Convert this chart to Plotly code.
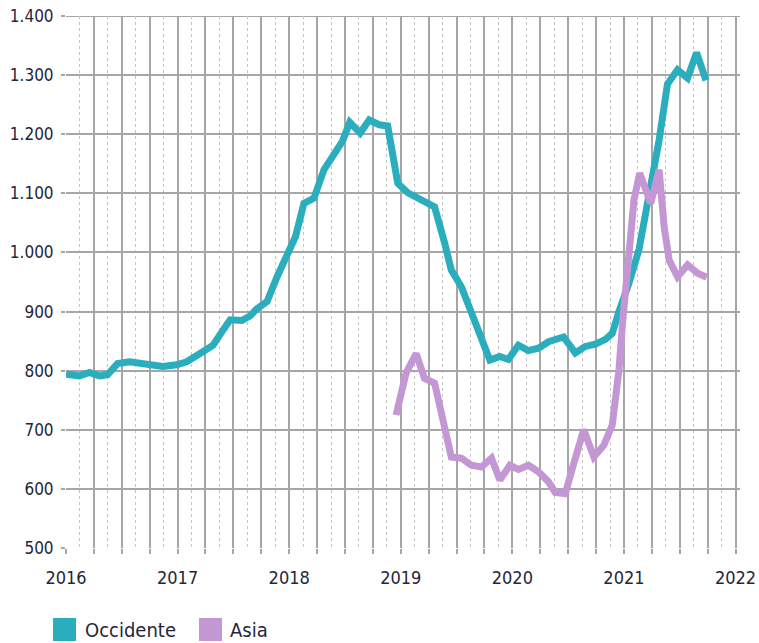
import plotly.graph_objects as go

# Occidente series (decimal year, value)
occ_x = [2016.000, 2016.120, 2016.210, 2016.300, 2016.372, 2016.462, 2016.570, 2016.721, 2016.868, 2016.991,
         2017.081, 2017.201, 2017.318, 2017.408, 2017.471, 2017.577, 2017.651, 2017.712, 2017.802, 2017.892, 2017.982,
         2018.057, 2018.132, 2018.222, 2018.312, 2018.402, 2018.477, 2018.543, 2018.636, 2018.717, 2018.807, 2018.883,
         2018.973, 2019.063, 2019.168, 2019.303, 2019.393, 2019.453, 2019.543, 2019.633, 2019.723, 2019.798, 2019.888, 2019.964,
         2020.054, 2020.144, 2020.234, 2020.324, 2020.459, 2020.564, 2020.654, 2020.744, 2020.834, 2020.895, 2020.955,
         2021.045, 2021.135, 2021.225, 2021.315, 2021.390, 2021.480, 2021.570, 2021.651, 2021.735]
occ_y = [794, 791, 797, 791, 793, 812, 815, 811, 807, 810,
         815, 829, 843, 869, 886, 885, 893, 905, 917, 959, 999,
         1027, 1083, 1092, 1140, 1168, 1188, 1220, 1202, 1224, 1216, 1214,
         1117, 1101, 1089, 1077, 1016, 970, 942, 897, 852, 818, 824, 819,
         843, 834, 838, 849, 857, 830, 841, 845, 853, 863, 900,
         948, 1005, 1090, 1190, 1285, 1309, 1295, 1338, 1291]

# Asia series (decimal year, value)
asia_x = [2018.958, 2019.048, 2019.138, 2019.213, 2019.303, 2019.378, 2019.453, 2019.543, 2019.633, 2019.723,
          2019.813, 2019.888, 2019.978, 2020.054, 2020.144, 2020.234, 2020.324, 2020.384, 2020.474, 2020.550,
          2020.640, 2020.730, 2020.820, 2020.895, 2020.955, 2020.985, 2021.045, 2021.090, 2021.141, 2021.195,
          2021.240, 2021.315, 2021.360, 2021.405, 2021.480, 2021.570, 2021.660, 2021.742]
asia_y = [725, 796, 829, 787, 779, 717, 654, 652, 640, 637,
          652, 615, 640, 633, 640, 629, 612, 594, 592, 643,
          700, 654, 674, 708, 801, 875, 1010, 1089, 1134, 1106,
          1083, 1140, 1044, 987, 959, 979, 965, 958]

series_names = ["Occidente", "Asia"]
year_ticks = [2016, 2017, 2018, 2019, 2020, 2021, 2022]
y_ticks = [500, 600, 700, 800, 900, 1000, 1100, 1200, 1300, 1400]
y_labels = ["500", "600", "700", "800", "900", "1.000", "1.100", "1.200", "1.300", "1.400"]

TEAL = "#2aaebd"
LILAC = "#c497d4"
FONT = "Liberation Sans Narrow, DejaVu Sans Condensed, sans-serif"
TXT = "#26263a"
GRID = "#a6a6a6"

# the page body margin is removed (see post_script), so figure = page
W, H = 759, 643
ML, MR, MT, MB = 66, 19, 16, 95
PW, PH = W - ML - MR, H - MT - MB


def px_to_paper(px, py):
    # page pixel -> paper coordinates
    return (px - ML) / PW, (H - MB - py) / PH


major_x = [2016 + q * 0.25 for q in range(25)]
major_text = [str(int(v)) if abs(v - round(v)) < 1e-9 else "" for v in major_x]
minor_x = [2016.125 + q * 0.25 for q in range(24)]

fig = go.Figure()
fig.add_trace(go.Scatter(x=occ_x, y=occ_y, mode="lines", name=series_names[0],
                         line=dict(color=TEAL, width=7), showlegend=False, hoverinfo="skip"))
fig.add_trace(go.Scatter(x=asia_x, y=asia_y, mode="lines", name=series_names[1],
                         line=dict(color=LILAC, width=7), showlegend=False, hoverinfo="skip"))

# top gridline (at the upper edge of the range)
shapes = [dict(type="line", xref="paper", x0=0, x1=1, yref="y", y0=y_ticks[-1], y1=y_ticks[-1],
               line=dict(color=GRID, width=2), layer="below")]
annotations = []
# manual legend: squares + text
legend_items = [(series_names[0], TEAL, 53, 83), (series_names[1], LILAC, 199, 228)]
for name, col, sq_left, txt_left in legend_items:
    x0, y0 = px_to_paper(sq_left, 641)
    x1, y1 = px_to_paper(sq_left + 23, 618)
    shapes.append(dict(type="rect", xref="paper", yref="paper", x0=x0, y0=y0, x1=x1, y1=y1,
                       fillcolor=col, line=dict(width=0)))
    tx, ty = px_to_paper(txt_left, 630)
    annotations.append(dict(text=name, xref="paper", yref="paper", x=tx, y=ty,
                            xanchor="left", yanchor="middle", showarrow=False,
                            font=dict(family=FONT, size=20, color=TXT)))

fig.update_layout(
    template="none",
    width=W, height=H,
    margin=dict(l=ML, r=MR, t=MT, b=MB),
    plot_bgcolor="white", paper_bgcolor="white",
    font=dict(family=FONT, size=18, color=TXT),
    showlegend=False,
    hovermode=False,
    shapes=shapes,
    annotations=annotations,
    xaxis=dict(range=[2016, 2022.04], tickmode="array", tickvals=major_x, ticktext=major_text,
               showgrid=True, gridcolor=GRID, gridwidth=2, automargin=False,
               ticks="outside", ticklen=5, tickwidth=2, tickcolor=GRID,
               zeroline=False, showline=False, ticklabelstandoff=8, ticklabeloverflow="allow",
               tickfont=dict(family=FONT, size=18, color=TXT),
               minor=dict(tickmode="array", tickvals=minor_x, showgrid=True,
                          gridcolor="#c4c4c4", gridwidth=1, griddash="dot", ticks="")),
    yaxis=dict(range=[500, 1400], tickmode="array", tickvals=y_ticks, ticktext=y_labels,
               showgrid=True, gridcolor=GRID, gridwidth=2, automargin=False,
               ticks="outside", ticklen=4, tickwidth=2, tickcolor=GRID,
               zeroline=False, showline=False, ticklabelstandoff=4, ticklabeloverflow="allow",
               tickfont=dict(family=FONT, size=17, color=TXT)),
)

fig.write_html("out.html", config={"displayModeBar": False},
               post_script="document.body.style.margin='0px';")
